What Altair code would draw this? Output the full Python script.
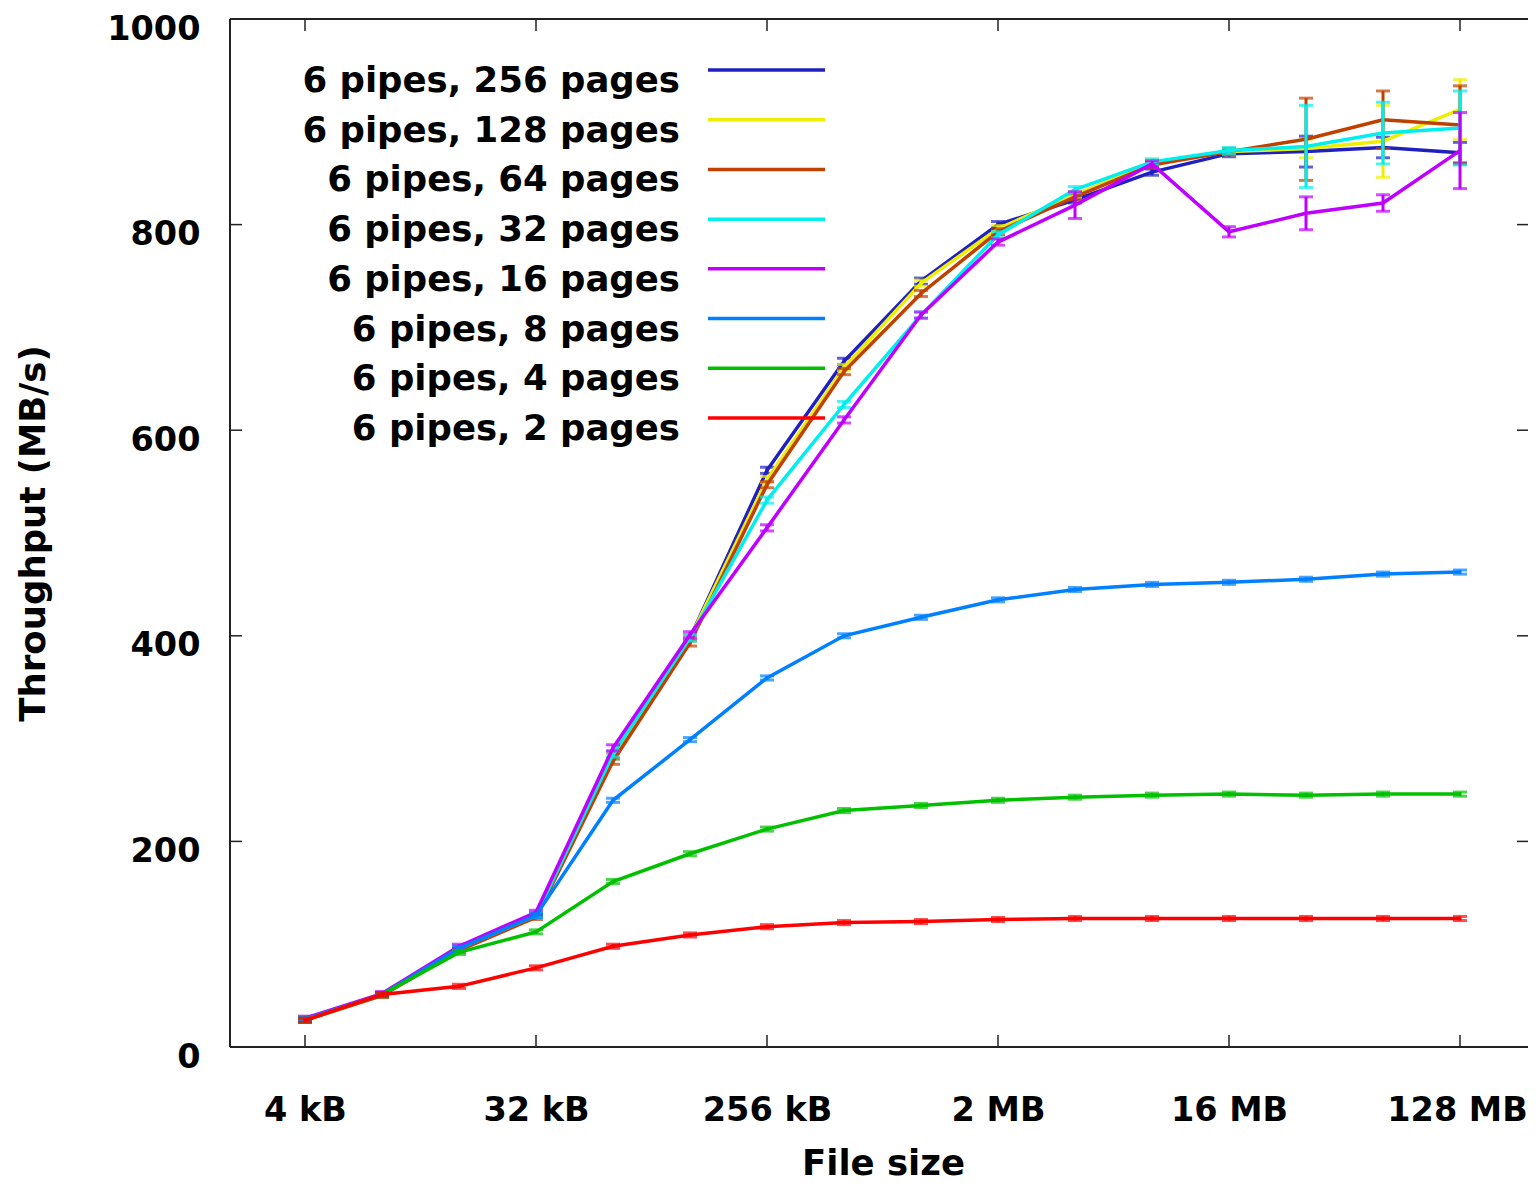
import altair as alt
import pandas as pd

# ---------------- data ----------------
sizes_kb = [4, 8, 16, 32, 64, 128, 256, 512, 1024, 2048, 4096, 8192,
            16384, 32768, 65536, 131072]
x_tick_exps = [2, 5, 8, 11, 14, 17]
x_tick_labels = ["4 kB", "32 kB", "256 kB", "2 MB", "16 MB", "128 MB"]
y_ticks = [0, 200, 400, 600, 800, 1000]

series_names = ["6 pipes, 256 pages", "6 pipes, 128 pages", "6 pipes, 64 pages",
                "6 pipes, 32 pages", "6 pipes, 16 pages", "6 pipes, 8 pages",
                "6 pipes, 4 pages", "6 pipes, 2 pages"]
series_colors = ["#2020c0", "#eeee00", "#c04000", "#00eeee",
                 "#c000ff", "#0080ff", "#00c000", "#ff0000"]

p256 = [27, 51, 96, 129, 283, 398, 561, 667, 745, 800, 824, 851, 869, 871, 875, 870]
p128 = [27, 51, 96, 129, 283, 398, 552, 661, 743, 796, 829, 860, 871, 874, 881, 912]
p64 = [26, 50, 94, 126, 278, 393, 547, 657, 733, 793, 827, 858, 871, 883, 902, 897]
p32 = [27, 51, 96, 128, 285, 398, 532, 625, 712, 790, 834, 861, 872, 876, 889, 894]
p16 = [28, 52, 98, 131, 291, 401, 505, 610, 712, 783, 819, 859, 793, 811, 821, 872]
p8 = [27, 51, 96, 128, 240, 299, 359, 400, 418, 435, 445, 450, 452, 455, 460, 462]
p4 = [26, 51, 92, 112, 161, 188, 212, 230, 235, 240, 243, 245, 246, 245, 246, 246]
p2 = [26, 51, 59, 77, 98, 109, 117, 121, 122, 124, 125, 125, 125, 125, 125, 125]

# half-length of the error bars
e256 = [2, 2, 2, 2, 3, 3, 3, 3, 3, 3, 3, 3, 3, 15, 10, 10]
e128 = [2, 2, 2, 2, 3, 3, 3, 3, 3, 3, 3, 3, 3, 9, 35, 29]
e64 = [2, 2, 2, 2, 3, 3, 3, 3, 3, 3, 3, 3, 3, 40, 28, 38]
e32 = [2, 2, 2, 2, 3, 3, 3, 3, 3, 3, 3, 3, 3, 40, 30, 36]
e16 = [2, 2, 2, 2, 3, 3, 3, 3, 3, 3, 13, 3, 5, 16, 8, 37]
e8 = [2, 2, 2, 2, 2, 2, 2, 2, 2, 2, 2, 2, 2, 2, 2, 2]
e4 = [2, 2, 2, 2, 2, 2, 2, 2, 2, 2, 2, 2, 2, 2, 2, 2]
e2 = [2, 2, 2, 2, 2, 2, 2, 2, 2, 2, 2, 2, 2, 2, 2, 2]

values = [p256, p128, p64, p32, p16, p8, p4, p2]
errors = [e256, e128, e64, e32, e16, e8, e4, e2]

rows = []
for name, vals, errs in zip(series_names, values, errors):
    for kb, v, e in zip(sizes_kb, vals, errs):
        rows.append({"series": name, "kb": kb, "value": v, "err": e})
df = pd.DataFrame(rows)

# ---------------- layout ----------------
W, H = 1298, 1028
FONT = "DejaVu Sans"

label_expr = " : ".join(
    f"datum.value == {v} ? '{t}'" for v, t in zip(x_tick_exps, x_tick_labels)
) + " : ''"

xscale = alt.Scale(domain=[1.026, 17.883], nice=False, zero=False)
yscale = alt.Scale(domain=[0, 1000], nice=False, zero=False)

xaxis = alt.Axis(values=x_tick_exps, labelExpr=label_expr, ticks=False, tickSize=0,
                 domain=False, grid=False, labelFlush=False,
                 labelOffset={"condition": {"test": f"datum.value == {x_tick_exps[-1]}",
                                            "value": -3}, "value": 0},
                 labelFont=FONT, labelFontWeight="bold", labelFontSize=33.5,
                 labelColor="black", labelBaseline="alphabetic", labelPadding=73,
                 title="File size", titleFont=FONT, titleFontWeight="bold",
                 titleFontSize=35.5, titleColor="black", titleBaseline="alphabetic",
                 titleAlign="center", titleX=653, titleY=127)
yaxis = alt.Axis(values=y_ticks, format="d", ticks=False, tickSize=0, domain=False,
                 grid=False,
                 labelFont=FONT, labelFontWeight="bold", labelFontSize=33.5,
                 labelColor="black", labelPadding=30, labelOffset=10,
                 labelBaseline="middle",
                 title="Throughput (MB/s)", titleFont=FONT, titleFontWeight="bold",
                 titleFontSize=35.5, titleColor="black", titleAngle=270,
                 titleBaseline="alphabetic", titleAlign="center",
                 titleX=-186, titleY=514)


def X(field):
    return alt.X(field, type="quantitative", scale=xscale, axis=xaxis)


def Y(field):
    return alt.Y(field, type="quantitative", scale=yscale, axis=yaxis)


layers = []
for name, color in zip(series_names, series_colors):
    base = alt.Chart(df).transform_filter(
        alt.datum.series == name
    ).transform_calculate(
        lg="log(datum.kb) / LN2",
        lo="datum.value - datum.err",
        hi="datum.value + datum.err",
    )
    line = base.mark_line(color=color, strokeWidth=3.5).encode(x=X("lg"), y=Y("value"))
    bar = base.mark_rule(color=color, strokeWidth=3).encode(
        x=X("lg"), y=Y("lo"), y2=alt.Y2("hi"))
    cap_lo = base.mark_tick(color=color, orient="horizontal", size=14, thickness=3).encode(
        x=X("lg"), y=Y("lo"))
    cap_hi = base.mark_tick(color=color, orient="horizontal", size=14, thickness=3).encode(
        x=X("lg"), y=Y("hi"))
    layers += [line, bar, cap_lo, cap_hi]

# inward ticks and frame
xt_df = pd.DataFrame({"exp": x_tick_exps})
yt_df = pd.DataFrame({"v": y_ticks})
one = pd.DataFrame({"a": [0]})
TICK = dict(color="#222222", strokeWidth=1.5)

layers.append(alt.Chart(xt_df).mark_rule(**TICK).encode(
    x=X("exp"), y=alt.value(H), y2=alt.value(H - 12)))
layers.append(alt.Chart(xt_df).mark_rule(**TICK).encode(
    x=X("exp"), y=alt.value(0), y2=alt.value(12)))
layers.append(alt.Chart(yt_df).mark_rule(**TICK).encode(
    y=Y("v"), x=alt.value(0), x2=alt.value(12)))
layers.append(alt.Chart(yt_df).mark_rule(**TICK).encode(
    y=Y("v"), x=alt.value(W), x2=alt.value(W - 11)))
layers.append(alt.Chart(one).mark_rule(color="#222222", strokeWidth=2).encode(
    x=alt.value(0), y=alt.value(0), y2=alt.value(H)))
layers.append(alt.Chart(one).mark_rule(color="#222222", strokeWidth=2).encode(
    x=alt.value(0), x2=alt.value(W), y=alt.value(0)))
layers.append(alt.Chart(one).mark_rule(color="#222222", strokeWidth=2).encode(
    x=alt.value(0), x2=alt.value(W), y=alt.value(H)))

main = alt.layer(*layers)

# legend (label on the left, line sample on the right)
leg_df = pd.DataFrame({"label": series_names})
leg_y = alt.Y("label:N", sort=series_names,
              scale=alt.Scale(type="point", range=[51, 399], padding=0), axis=None)
leg_text = alt.Chart(leg_df).mark_text(
    align="right", baseline="alphabetic", dy=22, font=FONT, fontWeight="bold",
    fontSize=35.5, color="black"
).encode(y=leg_y, x=alt.value(450), text="label:N")
leg_line = alt.Chart(leg_df).mark_rule(strokeWidth=3.5).encode(
    y=leg_y, x=alt.value(478), x2=alt.value(595),
    color=alt.Color("label:N", scale=alt.Scale(domain=series_names, range=series_colors),
                    legend=None))
legend = alt.layer(leg_text, leg_line)

chart = alt.layer(main, legend).resolve_scale(y="independent").properties(
    width=W, height=H,
    autosize=alt.AutoSizeParams(type="none"),
    padding={"left": 222, "top": 11, "right": 0, "bottom": 137},
    background="white",
).configure_view(stroke=None)

chart.save("out.html", embed_options={"renderer": "svg", "actions": False})
